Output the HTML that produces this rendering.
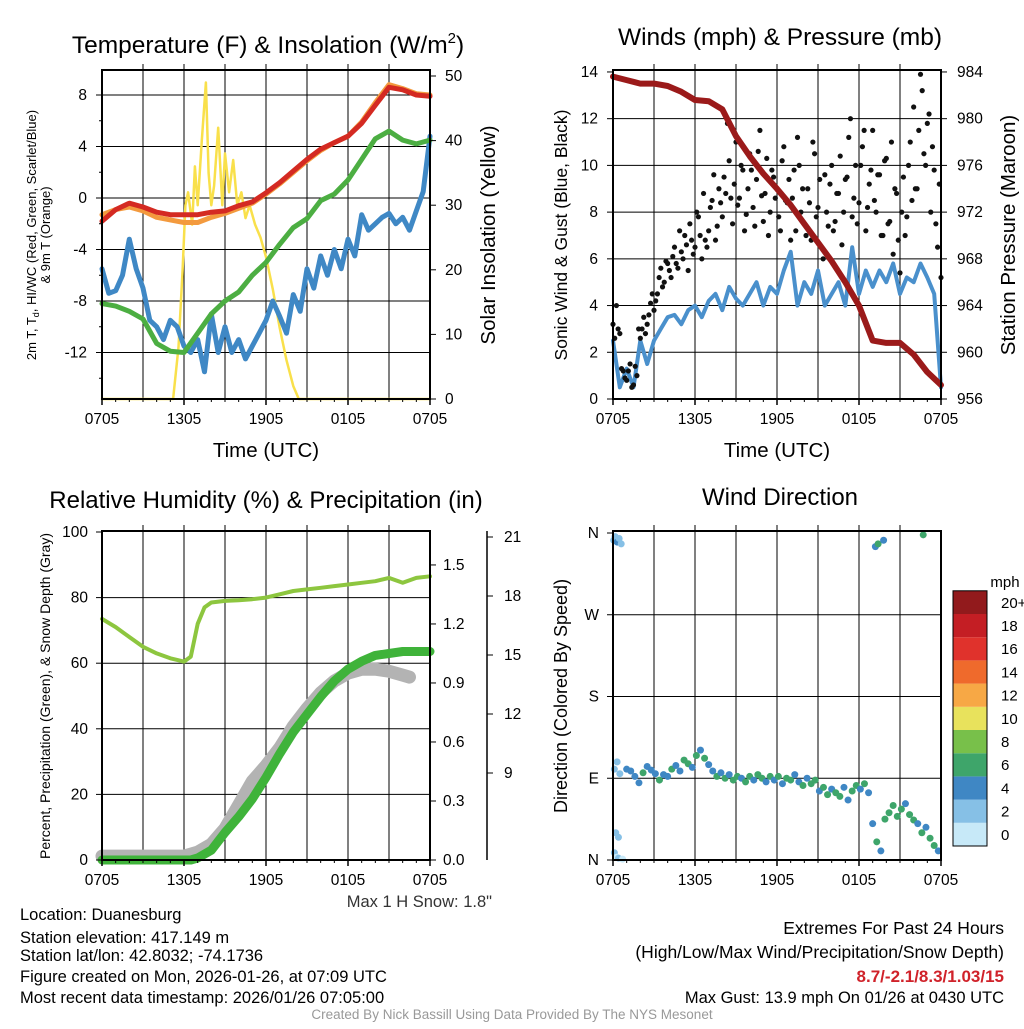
<!DOCTYPE html>
<html><head><meta charset="utf-8"><style>
body{margin:0;background:#fff}
svg text{font-family:"Liberation Sans",sans-serif;fill:#000}
</style></head><body>
<svg id="c" width="1024" height="1024" viewBox="0 0 1024 1024" xmlns="http://www.w3.org/2000/svg"></svg>
<script>
// ---- data ----
const hrs = [0,1,2,3,4,5,6,7,8,9,10,11,12,13,14,15,16,17,18,19,20,21,22,23,24];
const tempRed = [-1.8,-0.9,-0.4,-0.7,-1.1,-1.3,-1.3,-1.3,-1.1,-1.0,-0.6,-0.3,0.4,1.2,2.1,3.0,3.8,4.3,4.8,5.8,7.2,8.6,8.4,8.0,7.9];
const temp9m = [-1.3,-0.9,-0.7,-1.0,-1.5,-1.7,-1.9,-1.9,-1.5,-1.2,-0.8,-0.4,0.3,1.1,2.0,2.9,3.7,4.3,4.8,5.9,7.4,8.8,8.5,8.1,8.0];
const dewpt = [-8.2,-8.4,-8.8,-9.4,-11.3,-11.9,-12.0,-10.5,-9.0,-8.0,-7.3,-6.0,-5.0,-3.6,-2.3,-1.6,-0.2,0.3,1.4,3.0,4.6,5.2,4.5,4.2,4.5];
const hiwcT = [0,0.5,1,1.5,2,2.5,3,3.5,4,4.5,5,5.5,6,6.5,7,7.5,8,8.5,9,9.5,10,10.5,11,11.5,12,12.5,13,13.5,14,14.5,15,15.5,16,16.5,17,17.5,18,18.5,19,19.5,20,20.5,21,21.5,22,22.5,23,23.5,24];
const hiwc = [-5.5,-7.4,-7.2,-6,-3.2,-5.5,-7,-9.5,-10,-11,-9.5,-10,-11.5,-12,-11,-13.5,-9,-12,-10,-12,-11,-12.5,-11.5,-10.5,-9.5,-8,-9.2,-10.5,-7.5,-8.8,-5.5,-7,-4.5,-6,-4,-5.5,-3.2,-4.5,-1.3,-2.5,-2.0,-1.5,-1.2,-2.0,-1.5,-2.5,-1.0,0.5,4.8];
const solT = [0,5.2,5.6,5.9,6.1,6.3,6.6,6.8,7.0,7.3,7.6,7.8,8.0,8.2,8.5,8.8,9.0,9.3,9.6,9.9,10.2,10.5,10.8,11.2,11.6,12.0,12.5,13.0,13.5,14.0,14.4,24];
const solar = [0,0,8,20,30,32,27,36,30,40,49,35,30,33,42,30,38,32,37,30,32,28,30,27,25,22,17,11,6,2,0,0];
const presT = hrs;
const pressure = [983.6,983.3,983.0,983.0,982.8,982.3,981.6,981.5,980.8,978.5,976.8,975.3,974.0,972.6,971.0,969.4,967.8,966.0,964.0,961.0,960.8,960.8,959.8,958.3,957.2];
const wind = [2.5,0.5,1.3,0.5,2.5,1.5,2.5,3.0,3.5,3.6,3.2,3.8,4.0,3.5,4.2,4.5,3.8,4.8,4.3,4.0,4.5,5.0,4.0,4.8,4.5,5.5,6.3,4.0,5.0,4.5,5.5,4.0,4.5,5.0,4.0,6.5,4.5,5.5,4.8,5.5,5.0,5.8,4.5,5.2,5.0,5.8,5.2,4.5,0.5];
const gustA = [3.2,4.0,2.8,1.2,0.8,1.5,0.6,1.0,2.6,3.5,3.2,4.1,3.8,4.5,5.6,5.0,5.8,5.2,6.5,5.6,6.3,7.0,5.5,6.8,6.5,7.8,6.0,6.8,7.2,8.5,6.8,9.0,7.8,8.8,10.2,7.5,11.0,8.6,9.8,7.9,10.5,8.2,9.4,11.5,7.6,10.3,8.0,9.5,9.0,7.2,10.8,8.4,6.8,9.8,11.2,8.0,7.5,9.0,6.8,10.5,8.2,6.5,9.6,7.4,10.0,7.6,8.8,6.6,9.4,11.2,7.8,10.0,8.4,10.8,7.2,9.2,11.5,8.0,9.6,7.0,10.3,7.6,6.2,8.8,5.4,9.5,7.8,11.0,12.5,9.0,13.9,10.5,11.8,8.0,9.8,6.5,5.2];
const gustB = [2.6,3.0,1.3,0.9,1.2,0.5,1.4,3.0,3.0,2.8,3.6,4.5,4.2,5.2,4.8,5.9,5.5,6.1,5.8,7.2,6.0,6.6,7.5,6.2,8.0,7.0,8.8,6.5,8.2,9.6,7.4,8.4,9.5,11.8,8.6,9.2,8.3,10.0,7.2,9.0,9.8,7.4,10.6,8.7,8.8,7.0,9.8,8.6,7.8,10.2,8.5,9.4,8.6,7.2,10.0,9.0,7.0,8.4,11.0,7.8,9.4,6.0,8.0,9.2,7.2,8.8,10.4,8.0,9.5,12.0,8.6,7.5,10.0,11.5,8.2,9.8,8.5,9.6,7.0,10.2,7.5,11.0,9.0,6.8,8.0,7.0,10.0,8.5,9.0,11.5,13.2,10.0,12.2,10.8,7.5,9.2];
const rhT = [0,1,2,3,4,5,6,6.5,7,7.5,8,9,10,11,12,13,14,15,16,17,18,19,20,21,22,23,24];
const rh = [73.5,71,68,65,63,61.5,60.5,62,72,77,78.5,79,79.2,79.5,80,81,82,82.5,83,83.5,84,84.5,85,86,84.5,86,86.5];
const precipT = [0,6.5,7,8,9,10,11,12,13,14,15,16,17,18,19,20,21,22,23,24];
const precip = [0,0,0.01,0.05,0.14,0.22,0.31,0.42,0.54,0.65,0.74,0.83,0.91,0.97,1.01,1.04,1.05,1.06,1.06,1.06];
const snowT = [0,6,7,8,9,10,11,12,13,14,15,16,17,18,19,20,21,22,22.5];
const snow = [0.02,0.02,0.04,0.08,0.16,0.28,0.40,0.48,0.57,0.68,0.77,0.85,0.91,0.95,0.97,0.97,0.96,0.94,0.93];
const dirT = [0.05,0.15,0.3,0.45,0.6, 0.1,0.25,0.4,0.7, 0.1,0.3,0.5, 0.2,0.4, 1.0,1.3,1.6,1.9,2.2,2.5,2.8,3.1,3.4,3.7,4.0,4.3,4.6,4.9,5.2,5.5,5.8,6.1,6.4,6.7,7.0,7.3,7.6,7.9,8.2,8.5,8.8,9.1,9.4,9.7,10.0,10.3,10.6,10.9,11.2,11.5,11.8,12.1,12.4,12.7,13.0,13.3,13.6,13.9,14.2,14.5,14.8,15.1,15.4,15.7,16.0,16.3,16.6,16.9,17.2,17.5,17.8,18.1,18.4,18.7,19.0,19.3,19.6,19.9,20.2,20.5,20.8,21.1,21.4,21.7,22.0,22.3,22.6,22.9,23.2,23.5,23.8, 19.2,19.4,19.8,22.7];
const dirDeg = [352,356,350,354,348, 8,3,2,1, 100,108,95, 30,25, 100,98,92,85,96,103,99,95,88,94,92,100,104,98,110,106,102,115,121,112,105,98,92,96,90,94,88,92,90,86,92,88,94,90,86,92,88,92,84,90,88,94,86,82,90,84,88,76,80,72,78,74,70,80,66,76,82,78,84,74,40,20,10,45,52,60,48,56,62,50,44,40,30,36,24,16,10, 345,348,352,358];
const dirSpd = [2,1,3,1,2, 1,0.5,1,0.5, 1.5,2,1.5, 1,1, 3,4,3,4,5,4,3,4,5,4,4,5,4,4,5,5,4,5,4,5,4,4,6,4,5,4,6,5,4,6,5,4,5,6,4,5,4,5,4,6,5,4,4,5,4,6,5,4,6,5,4,6,5,4,4,5,6,4,5,4,4,5,4,5,6,6,5,6,4,6,5,4,5,4,6,5,4, 4,5,4,6];
const cbLabels = ["0","2","4","6","8","10","12","14","16","18","20+"];
const cbColors = ["#c7e9f8","#86c0e6","#3f87c4","#3ea56a","#78c04a","#e8e25c","#f7a845","#ef6a2c","#e0322c","#c41e24","#921a1c"];
const xTickLabels = ["0705","1305","1905","0105","0705"];

// ---- helpers ----
const NS="http://www.w3.org/2000/svg", svg=document.getElementById('c');
function el(tag,attrs,parent){const e=document.createElementNS(NS,tag);for(const k in attrs)e.setAttribute(k,attrs[k]);(parent||svg).appendChild(e);return e;}
function txt(x,y,s,size,anchor,extra){const t=el('text',Object.assign({x:x,y:y,'font-size':size,'text-anchor':anchor||'middle'},extra||{}));t.textContent=s;return t;}
function colorFor(s){let i=Math.round(s/2);if(i<0)i=0;if(i>10)i=10;return cbColors[i];}
const TK=15.5;
function panel(x0,y0,w,h){return {x0,y0,w,h,sx:t=>x0+t/24*w};}
function grid(P,ys){
  for(let k=1;k<8;k++){const x=P.sx(k*3);el('line',{x1:x,y1:P.y0-6,x2:x,y2:P.y0+P.h,stroke:'#000','stroke-width':1});}
  ys.forEach(y=>el('line',{x1:P.x0,y1:y,x2:P.x0+P.w,y2:y,stroke:'#000','stroke-width':1}));
}
function border(P){el('rect',{x:P.x0,y:P.y0,width:P.w,height:P.h,fill:'none',stroke:'#000','stroke-width':2});}
function xAxis(P,title){
  xTickLabels.forEach((s,i)=>{const x=P.sx(i*6);el('line',{x1:x,y1:P.y0+P.h,x2:x,y2:P.y0+P.h+6,stroke:'#000','stroke-width':1.5});
    const t=txt(x,P.y0+P.h+25,s,TK);});
  for(let k=0;k<=24;k++){const x=P.sx(k);el('line',{x1:x,y1:P.y0+P.h,x2:x,y2:P.y0+P.h+3,stroke:'#000'});}
  if(title){const t=txt(P.x0+P.w/2,P.y0+P.h+58,title,20.5);}
}
function poly(pts,attrs,name){const p=el('polyline',Object.assign({points:pts.map(p=>p[0].toFixed(1)+','+p[1].toFixed(1)).join(' '),fill:'none','stroke-linejoin':'round','stroke-linecap':'round'},attrs));return p;}

// ================= Panel 1 =================
const P1=panel(102,70,328,329);
const y1=v=>198-(v)*12.875;
const y1r=v=>399-v*6.46;
grid(P1,[8,4,0,-4,-8,-12].map(y1));
poly(solT.map((t,i)=>[P1.sx(t),y1r(solar[i])]),{stroke:'#f9e04b','stroke-width':2.5},'solar-insolation-line');
poly(hiwcT.map((t,i)=>[P1.sx(t),y1(hiwc[i])]),{stroke:'#3f88c5','stroke-width':5},'hi-wc-line');
poly(hrs.map((t,i)=>[P1.sx(t),y1(dewpt[i])]),{stroke:'#4cae42','stroke-width':5},'dewpoint-line');
poly(hrs.map((t,i)=>[P1.sx(t),y1(temp9m[i])]),{stroke:'#f39a3e','stroke-width':5},'temp-9m-line');
poly(hrs.map((t,i)=>[P1.sx(t),y1(tempRed[i])]),{stroke:'#d42a22','stroke-width':5},'temp-2m-line');
border(P1);
[8,4,0,-4,-8,-12].forEach(v=>{const y=y1(v);el('line',{x1:P1.x0-6,y1:y,x2:P1.x0,y2:y,stroke:'#000'});const t=txt(P1.x0-15,y+5,String(v),TK,'end');});
[6,2,-2,-6,-10,-14].forEach(v=>{const y=y1(v);el('line',{x1:P1.x0-3,y1:y,x2:P1.x0,y2:y,stroke:'#000'});});
[0,10,20,30,40,50].forEach(v=>{const y=y1r(v);el('line',{x1:P1.x0+P1.w,y1:y,x2:P1.x0+P1.w+6,y2:y,stroke:'#000'});const t=txt(P1.x0+P1.w+15,y+5,String(v),TK,'start');});
xAxis(P1,'Time (UTC)');
(function(){const t=txt(268,53,'',24.5);t.innerHTML='Temperature (F) &amp; Insolation (W/m<tspan dy="-10" font-size="15">2</tspan><tspan dy="10">)</tspan>';
const a=el('text',{transform:'translate(36,235) rotate(-90)','font-size':13,'text-anchor':'middle'});a.innerHTML='2m T, T<tspan dy="3" font-size="9">d</tspan><tspan dy="-3">, HI/WC (Red, Green, Scarlet/Blue)</tspan>';
const b=txt(0,0,'& 9m T (Orange)',13);b.setAttribute('transform','translate(50,235) rotate(-90)');
const c=txt(0,0,'Solar Insolation (Yellow)',20.5);c.setAttribute('transform','translate(495,235) rotate(-90)');})();

// ================= Panel 2 =================
const P2=panel(613,70,328,329);
const y2=v=>399-v*23.36;
const y2r=v=>399-(v-956)*11.68;
grid(P2,[2,4,6,8,10,12].map(y2));
poly(hiwcT.map((t,i)=>[P2.sx(t),y2(wind[i])]),{stroke:'#4a90cc','stroke-width':4},'wind-speed-line');
const gustG=el('g',{});
gustA.forEach((v,i)=>{const t=i*0.25;if(t>24)return;const c=el('circle',{cx:P2.sx(t),cy:y2(v),r:2.6,fill:'#111'},gustG);});
gustB.forEach((v,i)=>{const t=0.125+i*0.25;if(t>24)return;const c=el('circle',{cx:P2.sx(t),cy:y2(v),r:2.6,fill:'#111'},gustG);});
poly(presT.map((t,i)=>[P2.sx(t),y2r(pressure[i])]),{stroke:'#9b1a1a','stroke-width':6},'pressure-line');
border(P2);
[0,2,4,6,8,10,12,14].forEach(v=>{const y=y2(v);el('line',{x1:P2.x0-6,y1:y,x2:P2.x0,y2:y,stroke:'#000'});const t=txt(P2.x0-15,y+5,String(v),TK,'end');});
[956,960,964,968,972,976,980,984].forEach(v=>{const y=y2r(v);el('line',{x1:P2.x0+P2.w,y1:y,x2:P2.x0+P2.w+6,y2:y,stroke:'#000'});const t=txt(P2.x0+P2.w+16,y+5,String(v),TK,'start');});
xAxis(P2,'Time (UTC)');
(function(){const t=txt(780,45,'Winds (mph) & Pressure (mb)',24.5);
const a=txt(0,0,'Sonic Wind & Gust (Blue, Black)',17.5);a.setAttribute('transform','translate(567,235) rotate(-90)');
const c=txt(0,0,'Station Pressure (Maroon)',20.5);c.setAttribute('transform','translate(1015,235) rotate(-90)');})();

// ================= Panel 3 =================
const P3=panel(102,531,328,329);
const y3=v=>860-v*3.28;
const y3p=v=>860-v*196.7;
grid(P3,[20,40,60,80].map(y3));
poly(snowT.map((t,i)=>[P3.sx(t),y3p(snow[i])]),{stroke:'#b3b3b3','stroke-width':13},'snow-depth-line');
poly(precipT.map((t,i)=>[P3.sx(t),y3p(precip[i])]),{stroke:'#3fb33a','stroke-width':9},'precipitation-line');
poly(rhT.map((t,i)=>[P3.sx(t),y3(rh[i])]),{stroke:'#8dc63f','stroke-width':4},'relative-humidity-line');
border(P3);
[0,20,40,60,80,100].forEach(v=>{const y=y3(v);el('line',{x1:P3.x0-6,y1:y,x2:P3.x0,y2:y,stroke:'#000'});const t=txt(P3.x0-14,y+5,String(v),TK,'end');});
['0.0','0.3','0.6','0.9','1.2','1.5'].forEach(s=>{const y=y3p(parseFloat(s));el('line',{x1:P3.x0+P3.w,y1:y,x2:P3.x0+P3.w+6,y2:y,stroke:'#000'});const t=txt(P3.x0+P3.w+13,y+5,s,TK,'start');});
el('line',{x1:487,y1:531,x2:487,y2:860,stroke:'#000','stroke-width':1.5});
['9','12','15','18','21'].forEach((s,i)=>{const y=773-i*59;el('line',{x1:487,y1:y,x2:493,y2:y,stroke:'#000'});const t=txt(504,y+5,s,TK,'start');});
xAxis(P3,null);
(function(){const t=txt(266,508,'Relative Humidity (%) & Precipitation (in)',24);
const a=txt(0,0,'Percent, Precipitation (Green), & Snow Depth (Gray)',14);a.setAttribute('transform','translate(50,696) rotate(-90)');
const b=txt(492,907,'Max 1 H Snow: 1.8"',16.5,'end',{style:'fill:#333'});})();

// ================= Panel 4 =================
const P4=panel(613,531,328,329);
const y4=d=>860-d/360*327;
grid(P4,[90,180,270].map(y4));
const dirG=el('g',{});
dirT.forEach((t,i)=>{if(i>=dirDeg.length)return;const c=el('circle',{cx:P4.sx(t),cy:y4(dirDeg[i]),r:3.5,fill:colorFor(dirSpd[i]||4)},dirG);});
border(P4);
[['N',0],['E',90],['S',180],['W',270],['N',360]].forEach(([s,d])=>{const y=y4(d);el('line',{x1:P4.x0-6,y1:y,x2:P4.x0,y2:y,stroke:'#000'});const t=txt(P4.x0-14,y+5,s,TK,'end');});
xAxis(P4,null);
(function(){const t=txt(780,505,'Wind Direction',24);
const a=txt(0,0,'Direction (Colored By Speed)',18);a.setAttribute('transform','translate(567,696) rotate(-90)');
const lg=el('g',{});
const u=txt(1005,587,'mph',15,'middle',{});lg.appendChild(u);
cbColors.forEach((c,i)=>{const y=846-(i+1)*23.2;const r=el('rect',{x:953,y:y,width:34,height:23.2,fill:c},lg);
const t=txt(1001,y+17,cbLabels[i],15,'start');});
el('rect',{x:953,y:590.8,width:34,height:255.2,fill:'none',stroke:'#000','stroke-width':1},lg);})();

// ================= Footer text =================
[['Location: Duanesburg',920],['Station elevation: 417.149 m',943],['Station lat/lon: 42.8032; -74.1736',961],['Figure created on Mon, 2026-01-26, at 07:09 UTC',982],['Most recent data timestamp: 2026/01/26 07:05:00',1003]].forEach(([s,y],i)=>{const t=txt(20,y,s,16.5,'start');});
(function(){let t=txt(1004,934,'Extremes For Past 24 Hours',17.5,'end');
t=txt(1004,958,'(High/Low/Max Wind/Precipitation/Snow Depth)',17.5,'end');
t=txt(1004,982,'8.7/-2.1/8.3/1.03/15',17,'end',{'font-weight':'bold',style:'fill:#d0222a'});
t=txt(1004,1003,'Max Gust: 13.9 mph On 01/26 at 0430 UTC',16.5,'end');
t=txt(512,1019,'Created By Nick Bassill Using Data Provided By The NYS Mesonet',13.5,'middle',{style:'fill:#999'});})();
</script>
</body></html>
